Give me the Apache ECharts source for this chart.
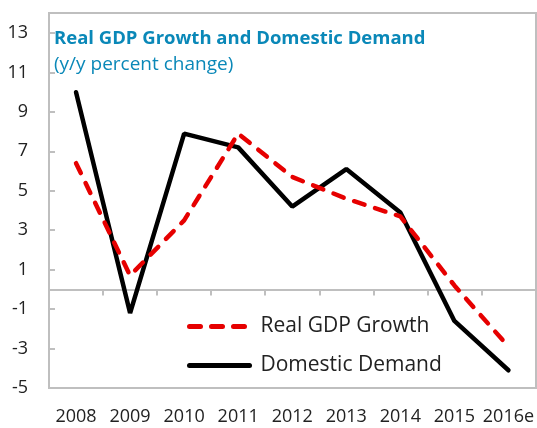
<!DOCTYPE html>
<html>
<head>
<meta charset="utf-8">
<script src="https://cdn.jsdelivr.net/npm/echarts@6/dist/echarts.min.js"></script>
<style>
  html, body { margin: 0; padding: 0; background: #fff; }
  #chart { width: 537px; height: 428px; }
</style>
</head>
<body>
<div id="chart"></div>
<script>
var years = ["2008", "2009", "2010", "2011", "2012", "2013", "2014", "2015", "2016e"];
var gdpGrowth = [6.4, 0.7, 3.5, 7.9, 5.7, 4.6, 3.7, 0.2, -2.9];
var domesticDemand = [10.0, -1.2, 7.9, 7.2, 4.2, 6.1, 3.9, -1.6, -4.1];
var yMin = -5, yMax = 13, yStep = 2;

var font = "Open Sans";
var gray = "#bfbfbf";
var blue = "#0a88b8";

var chart = echarts.init(document.getElementById("chart"));
chart.setOption({
  animation: false,
  textStyle: { fontFamily: font },
  title: [
    {
      text: "Real GDP Growth and Domestic Demand",
      left: 54, top: 29, padding: 0,
      textStyle: { fontFamily: font, fontSize: 18.5, fontWeight: "bold", color: blue }
    },
    {
      text: "(y/y percent change)",
      left: 54, top: 55, padding: 0,
      textStyle: { fontFamily: font, fontSize: 19, fontWeight: "normal", color: blue }
    }
  ],
  graphic: [
    {
      type: "rect",
      shape: { x: 49, y: 13, width: 487, height: 375 },
      style: { fill: "none", stroke: gray, lineWidth: 2 },
      z: 0
    }
  ],
  legend: {
    orient: "vertical",
    left: 187, top: 316,
    itemWidth: 60, itemHeight: 21, itemGap: 18,
    padding: 0,
    data: ["Real GDP Growth", "Domestic Demand"],
    itemStyle: { opacity: 0 },
    lineStyle: { width: 5, cap: "round" },
    textStyle: { fontFamily: font, fontSize: 21, color: "#222", padding: [0, 0, 0, 6] }
  },
  grid: { left: 49, right: 0, top: 33, bottom: 40, containLabel: false },
  xAxis: [
    {
      type: "category", data: years, boundaryGap: true, position: "bottom",
      axisLine: { show: false, onZero: false },
      axisTick: { show: false },
      axisLabel: { fontFamily: font, fontSize: 18, color: "#222", margin: 20, interval: 0 }
    },
    {
      type: "category", data: years, boundaryGap: true, position: "top",
      axisLine: { show: true, onZero: true, lineStyle: { color: gray, width: 2 } },
      axisTick: { show: true, inside: true, length: 6, lineStyle: { color: gray, width: 2 } },
      axisLabel: { show: false }
    }
  ],
  yAxis: {
    type: "value", min: yMin, max: yMax, interval: yStep,
    axisLine: { show: true, lineStyle: { color: gray, width: 2 } },
    axisTick: { show: true, inside: true, length: 6, lineStyle: { color: gray, width: 2 } },
    splitLine: { show: false },
    axisLabel: { fontFamily: font, fontSize: 18, color: "#222", margin: 21 }
  },
  series: [
    {
      name: "Real GDP Growth", type: "line", data: gdpGrowth,
      symbol: "none", z: 3,
      lineStyle: { color: "#e60000", width: 4.5, type: [11, 11], cap: "round" },
      itemStyle: { color: "#e60000" }
    },
    {
      name: "Domestic Demand", type: "line", data: domesticDemand,
      symbol: "none", z: 2,
      lineStyle: { color: "#000", width: 4.5, cap: "round" },
      itemStyle: { color: "#000" }
    }
  ]
});
</script>
</body>
</html>
